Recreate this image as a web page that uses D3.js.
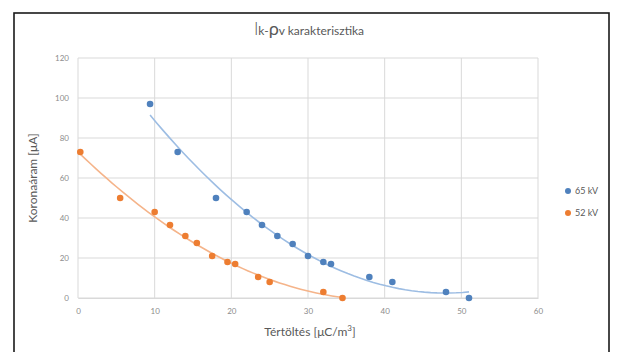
<!DOCTYPE html>
<html>
<head>
<meta charset="utf-8">
<script src="https://d3js.org/d3.v7.min.js"></script>
<style>
body { margin: 0; background: #fff; }
.chart text { font-family: Lato, "Open Sans", sans-serif; }
.tick text { fill: #8c8c8c; font-size: 8px; }
.grid line { stroke: #d9d9d9; }
</style>
</head>
<body>
<script>
// data
var charge65 = [9.4, 13, 18, 22, 24, 26, 28, 30, 32, 33, 38, 41, 48, 51];
var current65 = [97, 73, 50, 43, 36.5, 31, 27, 21, 18, 17, 10.5, 8, 3, 0];
var charge52 = [0.3, 5.5, 10, 12, 14, 15.5, 17.5, 19.5, 20.5, 23.5, 25, 32, 34.5];
var current52 = [73, 50, 43, 36.5, 31, 27.5, 21, 18, 17, 10.5, 8, 3, 0];
var xTicks = [0, 10, 20, 30, 40, 50, 60];
var yTicks = [0, 20, 40, 60, 80, 100, 120];
var seriesNames = ["65 kV", "52 kV"];

var W = 618, H = 352;
var margin = {top: 58, right: 80, bottom: 54, left: 78};

var svg = d3.select("body").append("svg")
    .attr("width", W)
    .attr("height", H)
    .attr("class", "chart");

// outer frame
svg.append("rect")
    .attr("x", 14).attr("y", 13)
    .attr("width", 595).attr("height", 350)
    .attr("fill", "none")
    .attr("stroke", "#1a1a1a")
    .attr("stroke-width", 1.6);

var x = d3.scaleLinear().domain([0, 60]).range([margin.left, 538]);
var y = d3.scaleLinear().domain([0, 120]).range([298, margin.top]);

// grid
var grid = svg.append("g").attr("class", "grid");
grid.selectAll(".h").data(yTicks).enter().append("line")
    .attr("x1", x(0)).attr("x2", x(60))
    .attr("y1", function(d) { return y(d); })
    .attr("y2", function(d) { return y(d); });
grid.selectAll(".v").data(xTicks).enter().append("line")
    .attr("y1", y(0)).attr("y2", y(120))
    .attr("x1", function(d) { return x(d); })
    .attr("x2", function(d) { return x(d); });

// axes (labels only)
var xAxis = svg.append("g")
    .attr("transform", "translate(0," + y(0) + ")")
    .call(d3.axisBottom(x).tickValues(xTicks).tickSize(0).tickPadding(10));
var yAxis = svg.append("g")
    .attr("transform", "translate(" + x(0) + ",0)")
    .call(d3.axisLeft(y).tickValues(yTicks).tickSize(0).tickPadding(9));
xAxis.select(".domain").attr("stroke", "#d9d9d9");
yAxis.select(".domain").remove();

// quadratic least-squares trendline
function polyFit(xs, ys) {
    var n = xs.length, s = [0, 0, 0, 0, 0], t = [0, 0, 0];
    for (var i = 0; i < n; i++) {
        var p = 1;
        for (var k = 0; k < 5; k++) { s[k] += p; if (k < 3) t[k] += p * ys[i]; p *= xs[i]; }
    }
    var A = [[s[0], s[1], s[2], t[0]], [s[1], s[2], s[3], t[1]], [s[2], s[3], s[4], t[2]]];
    for (var c = 0; c < 3; c++) {
        for (var r = c + 1; r < 3; r++) {
            var f = A[r][c] / A[c][c];
            for (var j = c; j < 4; j++) A[r][j] -= f * A[c][j];
        }
    }
    var b = [0, 0, 0];
    for (var r2 = 2; r2 >= 0; r2--) {
        var v = A[r2][3];
        for (var j2 = r2 + 1; j2 < 3; j2++) v -= A[r2][j2] * b[j2];
        b[r2] = v / A[r2][r2];
    }
    return function(xv) { return b[0] + b[1] * xv + b[2] * xv * xv; };
}

var series = [
    {name: seriesNames[0], xs: charge65, ys: current65, color: "#4f81bd", trend: "#9dbde3"},
    {name: seriesNames[1], xs: charge52, ys: current52, color: "#ed7d31", trend: "#f5b48a"}
];

var line = d3.line()
    .x(function(d) { return x(d[0]); })
    .y(function(d) { return y(d[1]); });

series.forEach(function(s) {
    var fn = polyFit(s.xs, s.ys);
    var x0 = d3.min(s.xs), x1 = d3.max(s.xs);
    var pts = d3.range(0, 51).map(function(i) {
        var xv = x0 + (x1 - x0) * i / 50;
        return [xv, fn(xv)];
    });
    svg.append("path")
        .attr("d", line(pts))
        .attr("fill", "none")
        .attr("stroke", s.trend)
        .attr("stroke-width", 1.6);
});

series.forEach(function(s) {
    svg.append("g").selectAll("circle")
        .data(s.xs.map(function(v, i) { return [v, s.ys[i]]; }))
        .enter().append("circle")
        .attr("cx", function(d) { return x(d[0]); })
        .attr("cy", function(d) { return y(d[1]); })
        .attr("r", 3.3)
        .attr("fill", s.color);
});

// legend
var legend = svg.append("g").selectAll("g")
    .data(series)
    .enter().append("g")
    .attr("transform", function(d, i) { return "translate(568," + (191 + i * 22) + ")"; });
legend.append("circle").attr("r", 3).attr("fill", function(d) { return d.color; });
legend.append("text")
    .attr("x", 7).attr("dy", "0.35em")
    .attr("font-size", 9).attr("fill", "#595959")
    .text(function(d) { return d.name; });

// title
var title = svg.append("text")
    .attr("x", 309).attr("y", 35)
    .attr("text-anchor", "middle")
    .attr("fill", "#595959")
    .attr("font-size", 12);
title.append("tspan").attr("font-size", 17).attr("font-weight", 300).text("I");
title.append("tspan").text("k-");
title.append("tspan").attr("font-size", 18).text("ρ");
title.append("tspan").text("v karakterisztika");

// axis titles
svg.append("text")
    .attr("transform", "translate(37," + y(60) + ") rotate(-90)")
    .attr("text-anchor", "middle")
    .attr("fill", "#595959")
    .attr("font-size", 12)
    .text("Koronaáram [μA]");

var xt = svg.append("text")
    .attr("x", 310).attr("y", 336)
    .attr("text-anchor", "middle")
    .attr("fill", "#595959")
    .attr("font-size", 12);
xt.append("tspan").text("Tértöltés [μC/m");
xt.append("tspan").attr("font-size", 8).attr("dy", -5).text("3");
xt.append("tspan").attr("dy", 5).text("]");
</script>
</body>
</html>
